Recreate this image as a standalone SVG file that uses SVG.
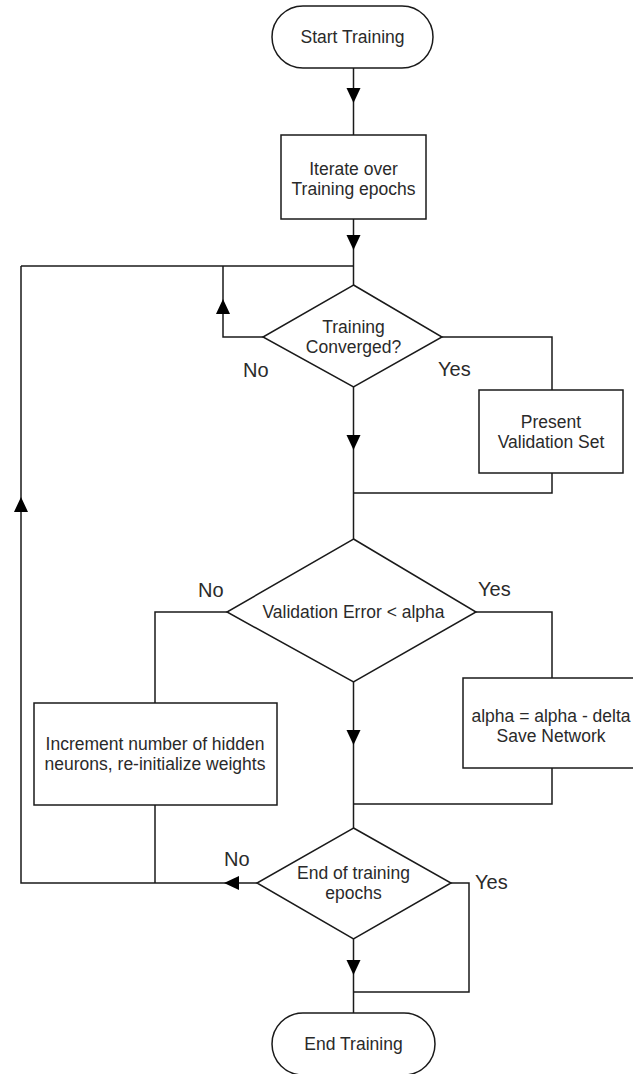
<svg xmlns="http://www.w3.org/2000/svg" xmlns:xlink="http://www.w3.org/1999/xlink" width="633" height="1074" viewBox="0 0 633 1074">
<style>
.shape{fill:#ffffff;stroke:#1a1a1a;stroke-width:1.5}
.conn{fill:none;stroke:#1a1a1a;stroke-width:1.5}
.t{font-family:"Liberation Sans",Arial,sans-serif;font-size:17.5px;fill:#2a2a2a;text-anchor:middle}
.lbl{font-family:"Liberation Sans",Arial,sans-serif;font-size:20px;fill:#2a2a2a}
</style>
<defs>
<path id="ah" d="M-7,-15 L7,-15 L0,0 Z" fill="#000000"/>
</defs>
<rect width="633" height="1074" fill="#ffffff"/>
<g id="connectors">
<path class="conn" d="M353.5,68 V135"/>
<path class="conn" d="M353.5,219 V285"/>
<path class="conn" d="M21,266 H353.5"/>
<path class="conn" d="M263,337 H223 V266"/>
<path class="conn" d="M442,337 H552 V390"/>
<path class="conn" d="M552,473 V493 H353.5"/>
<path class="conn" d="M353.5,387 V539"/>
<path class="conn" d="M227,612 H155 V703"/>
<path class="conn" d="M476,612 H552 V678"/>
<path class="conn" d="M552,768 V804 H353.5"/>
<path class="conn" d="M353.5,682 V828"/>
<path class="conn" d="M155,805 V883"/>
<path class="conn" d="M257,883 H21 V266"/>
<path class="conn" d="M451,883 H469 V992 H353.5"/>
<path class="conn" d="M353.5,939 V1013"/>
<use xlink:href="#ah" transform="translate(353.5,103)"/>
<use xlink:href="#ah" transform="translate(353.5,250)"/>
<use xlink:href="#ah" transform="translate(353.5,450)"/>
<use xlink:href="#ah" transform="translate(353.5,745)"/>
<use xlink:href="#ah" transform="translate(353.5,975)"/>
<use xlink:href="#ah" transform="translate(223,299) rotate(180)"/>
<use xlink:href="#ah" transform="translate(21,497) rotate(180)"/>
<use xlink:href="#ah" transform="translate(224,883) rotate(90)"/>
<text class="lbl" x="243" y="377">No</text>
<text class="lbl" x="438" y="376">Yes</text>
<text class="lbl" x="198" y="597">No</text>
<text class="lbl" x="478" y="596">Yes</text>
<text class="lbl" x="224" y="866">No</text>
<text class="lbl" x="475" y="889">Yes</text>
</g>
<g id="start">
<rect class="shape" x="272" y="6" width="161" height="62" rx="31" ry="31"/>
<text class="t" x="352.5" y="43">Start Training</text>
</g>
<g id="iterate">
<rect class="shape" x="281" y="135" width="145" height="84"/>
<text class="t" x="353.5" y="175">Iterate over</text>
<text class="t" x="353.5" y="195">Training epochs</text>
</g>
<g id="converged">
<polygon class="shape" points="353.5,285 442,337 353.5,387 263,337"/>
<text class="t" x="353.5" y="333">Training</text>
<text class="t" x="353.5" y="353">Converged?</text>
</g>
<g id="present">
<rect class="shape" x="479" y="390" width="144" height="83"/>
<text class="t" x="551" y="428">Present</text>
<text class="t" x="551" y="448">Validation Set</text>
</g>
<g id="validation">
<polygon class="shape" points="353.5,539 476,612 353.5,682 227,612"/>
<text class="t" x="353.5" y="618">Validation Error &lt; alpha</text>
</g>
<g id="increment">
<rect class="shape" x="34" y="703" width="243" height="102"/>
<text class="t" x="155" y="750">Increment number of hidden</text>
<text class="t" x="155" y="770">neurons, re-initialize weights</text>
</g>
<g id="savenet">
<rect class="shape" x="463" y="678" width="178" height="90"/>
<text class="t" x="551" y="722">alpha = alpha - delta</text>
<text class="t" x="551" y="742">Save Network</text>
</g>
<g id="endepochs">
<polygon class="shape" points="353.5,828 451,883 353.5,939 257,883"/>
<text class="t" x="353.5" y="879">End of training</text>
<text class="t" x="353.5" y="899">epochs</text>
</g>
<g id="end">
<rect class="shape" x="272" y="1013" width="163" height="62" rx="31" ry="31"/>
<text class="t" x="353.5" y="1050">End Training</text>
</g>
</svg>
